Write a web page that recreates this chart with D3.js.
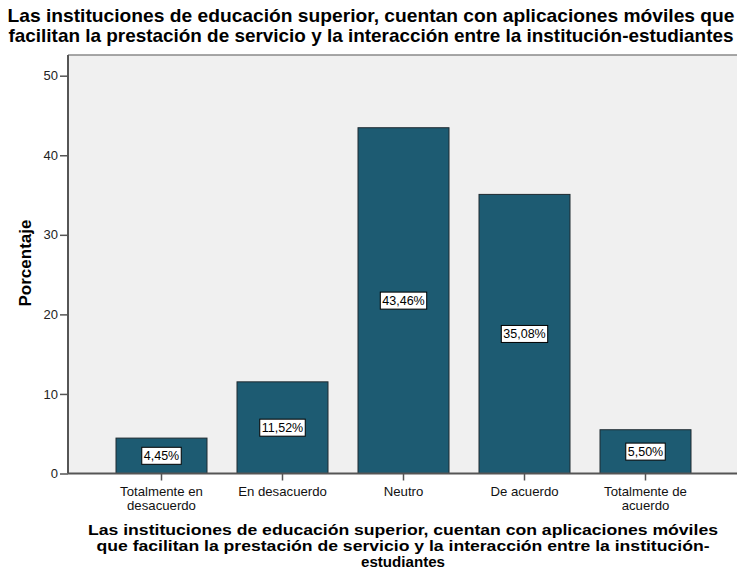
<!DOCTYPE html>
<html>
<head>
<meta charset="utf-8">
<script src="https://cdn.jsdelivr.net/npm/d3@7"></script>
<style>
  body { margin: 0; background: #fff; }
  text { font-family: "Liberation Sans", Arial, sans-serif; }
</style>
</head>
<body>
<svg id="chart" width="737" height="573"></svg>
<script>
// categories and percentages
var categories = ["Totalmente en desacuerdo", "En desacuerdo", "Neutro", "De acuerdo", "Totalmente de acuerdo"];
var catLines = [["Totalmente en", "desacuerdo"], ["En desacuerdo"], ["Neutro"], ["De acuerdo"], ["Totalmente de", "acuerdo"]];
var percents = [4.45, 11.52, 43.46, 35.08, 5.50];
var yTicks = [0, 10, 20, 30, 40, 50];

var titleLines = [
  "Las instituciones de educación superior, cuentan con aplicaciones móviles que",
  "facilitan la prestación de servicio y la interacción entre la institución-estudiantes"
];
var titleWidths = [727, 725];
var xTitleLines = [
  "Las instituciones de educación superior, cuentan con aplicaciones móviles",
  "que facilitan la prestación de servicio y la interacción entre la institución-",
  "estudiantes"
];
var xTitleWidths = [630, 613, 84];

var svg = d3.select("#chart");
var plotLeft = 68, plotTop = 55, plotRight = 737, plotBottom = 473.5;

var y = d3.scaleLinear().domain([0, 50]).range([plotBottom, 75.7]);
var x = d3.scaleBand()
  .domain(categories)
  .range([101, 706])
  .paddingInner(30 / 121)
  .paddingOuter(15 / 121);

// plot background
svg.append("rect")
  .attr("x", plotLeft)
  .attr("y", plotTop)
  .attr("width", plotRight - plotLeft)
  .attr("height", plotBottom - plotTop)
  .attr("fill", "#f0f0f0");

svg.append("line")
  .attr("x1", plotLeft).attr("x2", plotRight)
  .attr("y1", plotTop).attr("y2", plotTop)
  .attr("stroke", "#8a8a8a").attr("stroke-width", 1.5);

// bars
svg.selectAll("rect.bar")
  .data(percents)
  .enter()
  .append("rect")
  .attr("class", "bar")
  .attr("x", function(d, i) { return x(categories[i]); })
  .attr("width", x.bandwidth())
  .attr("y", function(d) { return y(d); })
  .attr("height", function(d) { return y(0) - y(d); })
  .attr("fill", "#1d5b72")
  .attr("stroke", "#1e2a30")
  .attr("stroke-width", 1);

// y axis
var yAxis = d3.axisLeft(y).tickValues(yTicks).tickSize(8).tickPadding(2);
var gy = svg.append("g")
  .attr("transform", "translate(" + plotLeft + ",0)")
  .call(yAxis);
gy.select(".domain").attr("stroke", "#555").attr("stroke-width", 2)
  .attr("d", "M0," + plotTop + "V" + plotBottom);
gy.selectAll(".tick line").attr("stroke", "#555").attr("stroke-width", 1.5);
gy.selectAll(".tick text")
  .attr("fill", "#222")
  .style("font-size", "13px")
  .style("font-family", "'Liberation Sans', Arial, sans-serif");

// x axis
var xAxis = d3.axisBottom(x).tickSize(7).tickFormat("");
var gx = svg.append("g")
  .attr("transform", "translate(0," + plotBottom + ")")
  .call(xAxis);
gx.select(".domain").attr("stroke", "#555").attr("stroke-width", 2)
  .attr("d", "M" + plotLeft + ",0H" + plotRight);
gx.selectAll(".tick line").attr("stroke", "#555").attr("stroke-width", 1.5);

// category labels
svg.selectAll("text.cat")
  .data(categories)
  .enter()
  .append("text")
  .attr("class", "cat")
  .attr("text-anchor", "middle")
  .attr("font-size", 13.2)
  .attr("fill", "#111")
  .each(function(d, i) {
    var t = d3.select(this);
    catLines[i].forEach(function(line, j) {
      t.append("tspan")
        .attr("x", x(d) + x.bandwidth() / 2)
        .attr("y", 496 + j * 14)
        .text(line);
    });
  });

// value boxes in the middle of each bar
var labels = svg.selectAll("g.val")
  .data(percents)
  .enter()
  .append("g")
  .attr("class", "val")
  .attr("transform", function(d, i) {
    return "translate(" + (x(categories[i]) + x.bandwidth() / 2) + "," + y(d / 2) + ")";
  });

labels.append("text")
  .attr("text-anchor", "middle")
  .attr("dy", "0.36em")
  .attr("font-size", 12.5)
  .attr("fill", "#000")
  .text(function(d) { return d.toFixed(2).replace(".", ",") + "%"; });

labels.each(function() {
  var g = d3.select(this);
  var bb = g.select("text").node().getBBox();
  g.insert("rect", "text")
    .attr("x", bb.x - 2)
    .attr("y", -8.5)
    .attr("width", bb.width + 4)
    .attr("height", 17)
    .attr("fill", "#fff")
    .attr("stroke", "#000")
    .attr("stroke-width", 1);
});

// chart title
svg.append("text")
  .attr("text-anchor", "middle")
  .attr("font-size", 18.5)
  .attr("font-weight", "bold")
  .attr("fill", "#000")
  .selectAll("tspan")
  .data(titleLines)
  .enter()
  .append("tspan")
  .attr("x", 371)
  .attr("y", function(d, i) { return 22 + i * 20; })
  .attr("textLength", function(d, i) { return titleWidths[i]; })
  .attr("lengthAdjust", "spacingAndGlyphs")
  .text(function(d) { return d; });

// x axis title
svg.append("text")
  .attr("text-anchor", "middle")
  .attr("font-size", 15)
  .attr("font-weight", "bold")
  .attr("fill", "#000")
  .selectAll("tspan")
  .data(xTitleLines)
  .enter()
  .append("tspan")
  .attr("x", 403)
  .attr("y", function(d, i) { return 535 + i * 16; })
  .attr("textLength", function(d, i) { return xTitleWidths[i]; })
  .attr("lengthAdjust", "spacingAndGlyphs")
  .text(function(d) { return d; });

// y axis title
svg.append("text")
  .attr("transform", "translate(31,263) rotate(-90)")
  .attr("text-anchor", "middle")
  .attr("font-size", 17)
  .attr("font-weight", "bold")
  .attr("fill", "#000")
  .text("Porcentaje");
</script>
</body>
</html>
